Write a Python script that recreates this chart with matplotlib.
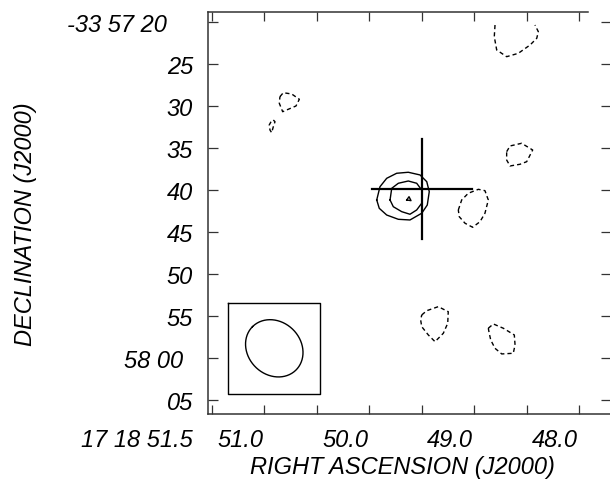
import numpy as np
import matplotlib
matplotlib.use("Agg")
import matplotlib.pyplot as plt
from matplotlib.transforms import offset_copy

plt.rcParams['font.family'] = ['Liberation Sans', 'DejaVu Sans']
plt.rcParams['font.style'] = 'italic'
plt.rcParams['font.size'] = 17

# RA in seconds of 17h18m, Dec in arcsec below -33d57m00s
ra_lim = (51.538, 47.695)
dec_lim = (66.67, 18.81)
dec_deg = -33.96

ra_ticks = [51.5, 51.0, 50.5, 50.0, 49.5, 49.0, 48.5, 48.0]
ra_labels = ['17 18 51.5', '51.0', '', '50.0', '', '49.0', '', '48.0']
dec_ticks = [20, 25, 30, 35, 40, 45, 50, 55, 60, 65]
dec_labels = ['-33 57 20', '25', '30', '35', '40', '45', '50', '55', '58 00', '05']

# positive contours (solid)
src_outer_ra = [49.929, 49.898, 49.834, 49.739, 49.628, 49.516, 49.452, 49.428,
                49.447, 49.500, 49.612, 49.723, 49.834, 49.905]
src_outer_dec = [41.19, 39.61, 38.61, 38.01, 37.89, 38.21, 39.01, 40.20,
                 41.79, 42.77, 43.57, 43.49, 42.98, 42.18]
src_inner_ra = [49.802, 49.786, 49.723, 49.628, 49.548, 49.500, 49.500, 49.548,
                49.612, 49.691, 49.771]
src_inner_dec = [41.19, 39.80, 39.20, 38.93, 39.20, 40.00, 41.58, 42.38,
                 42.89, 42.58, 41.99]
src_peak_ra = [49.643, 49.621, 49.602]
src_peak_dec = [41.19, 40.80, 41.27]

# negative contours (dashed)
neg_a_ra = [49.151, 49.119, 49.056, 48.960, 48.897, 48.865, 48.897, 48.944,
            49.014, 49.087, 49.142]
neg_a_dec = [42.38, 41.19, 40.39, 39.92, 40.08, 41.19, 42.77, 43.77,
             44.44, 43.96, 43.18]
neg_b_ra = [48.690, 48.658, 48.547, 48.442, 48.499, 48.563, 48.658, 48.690]
neg_b_dec = [35.44, 34.76, 34.44, 35.24, 36.63, 36.94, 37.14, 36.43]
neg_c_ra = [48.801, 48.808, 48.785, 48.690, 48.579, 48.467, 48.403, 48.388, 48.420]
neg_c_dec = [20.36, 21.75, 23.33, 24.13, 23.73, 22.74, 21.94, 21.15, 20.36]
neg_d_ra = [50.852, 50.820, 50.740, 50.667, 50.699, 50.772, 50.826, 50.858]
neg_d_dec = [28.89, 28.42, 28.57, 29.20, 30.00, 30.39, 30.68, 29.68]
neg_e_ra = [50.915, 50.899, 50.915, 50.931, 50.947, 50.954, 50.937]
neg_e_dec = [31.67, 31.87, 32.46, 33.18, 32.86, 32.26, 31.87]
neg_f_ra = [49.500, 49.452, 49.342, 49.247, 49.252, 49.294, 49.373, 49.437,
            49.500, 49.510]
neg_f_dec = [54.88, 54.37, 53.89, 54.49, 55.87, 57.06, 58.06, 57.26, 56.27, 55.48]
neg_g_ra = [48.865, 48.817, 48.722, 48.617, 48.610, 48.627, 48.737, 48.801,
            48.842, 48.856]
neg_g_dec = [56.46, 55.95, 56.46, 57.26, 58.45, 59.44, 59.52, 58.85, 57.86, 57.06]

closed = [True, True, True, True, True, False, True, True, True, True]

# cross marking the position
cross_ra, cross_dec = 49.497, 39.88
cross_half_ra, cross_half_dec = 0.48, 6.0

# restoring beam
beam_ra, beam_dec = 50.906, 58.85
bmaj, bmin, bpa = 7.3, 6.3, 45.0
beam_box = 5.45

fig = plt.figure(figsize=(6.1, 4.8), dpi=100)
ax = fig.add_axes([208 / 610, 1 - 414 / 480, 403 / 610, 402 / 480])
ax.set_xlim(ra_lim)
ax.set_ylim(dec_lim)

k = 15 * np.cos(np.radians(dec_deg))  # arcsec per RA second


def draw(ra, dec, dashed=False, close=True):
    ra = list(ra)
    dec = list(dec)
    if close:
        ra.append(ra[0])
        dec.append(dec[0])
    ls = (0, (3, 2.2)) if dashed else '-'
    ax.plot(ra, dec, color='black', lw=1.0, ls=ls, solid_joinstyle='round')


draw(src_outer_ra, src_outer_dec)
draw(src_inner_ra, src_inner_dec)
draw(src_peak_ra, src_peak_dec)
draw(neg_a_ra, neg_a_dec, True)
draw(neg_b_ra, neg_b_dec, True)
draw(neg_c_ra, neg_c_dec, True, close=False)
draw(neg_d_ra, neg_d_dec, True)
draw(neg_e_ra, neg_e_dec, True)
draw(neg_f_ra, neg_f_dec, True)
draw(neg_g_ra, neg_g_dec, True)

ax.plot([cross_ra + cross_half_ra, cross_ra - cross_half_ra], [cross_dec, cross_dec],
        color='black', lw=1.6)
ax.plot([cross_ra, cross_ra], [cross_dec - cross_half_dec, cross_dec + cross_half_dec],
        color='black', lw=1.6)

# beam ellipse and box
t = np.linspace(0, 2 * np.pi, 200)
u = bmaj / 2 * np.cos(t)
v = bmin / 2 * np.sin(t)
pa = np.radians(bpa)
east = u * np.sin(pa) + v * np.cos(pa)
north = u * np.cos(pa) - v * np.sin(pa)
ax.plot(beam_ra + east / k, beam_dec - north, color='black', lw=1.0)
bx = [beam_ra + beam_box / k, beam_ra - beam_box / k, beam_ra - beam_box / k,
      beam_ra + beam_box / k, beam_ra + beam_box / k]
by = [beam_dec - beam_box, beam_dec - beam_box, beam_dec + beam_box,
      beam_dec + beam_box, beam_dec - beam_box]
ax.plot(bx, by, color='black', lw=1.0)

# frame and ticks
for s in ax.spines.values():
    s.set_linewidth(1.1)
    s.set_color('#333333')
ax.spines['top'].set_bounds(ra_lim[0], 47.914)
ax.set_xticks(ra_ticks)
ax.set_yticks(dec_ticks)
ax.tick_params(axis='x', direction='in', length=6.5, width=0.9, top=True,
               labelbottom=False, color='#333333')
ax.tick_params(axis='y', direction='in', length=7.2, width=0.9, right=True,
               labelleft=False, color='#333333')

# AIPS-style labels, right aligned
for i, (val, lab) in enumerate(zip(dec_ticks, dec_labels)):
    dx = -15
    if lab == '58 00':
        dx = -25
    elif lab.startswith('-'):
        dx = -41
    tr = offset_copy(ax.transData, fig=fig, x=dx, y=-10.5, units='dots')
    ax.text(ra_lim[0], val, lab, transform=tr, ha='right', va='baseline', clip_on=False)

for val, lab in zip(ra_ticks, ra_labels):
    if not lab:
        continue
    dx = -19 if lab.startswith('17') else -1
    tr = offset_copy(ax.transData, fig=fig, x=dx, y=-33, units='dots')
    ax.text(val, dec_lim[0], lab, transform=tr, ha='right', va='baseline', clip_on=False)

fig.text(402 / 610, 1 - 474 / 480, 'RIGHT ASCENSION (J2000)', ha='center', va='baseline')
fig.text(26 / 610, 1 - 224 / 480, 'DECLINATION (J2000)', ha='center', va='center',
         rotation=90)

fig.savefig('out.png', dpi=100)
